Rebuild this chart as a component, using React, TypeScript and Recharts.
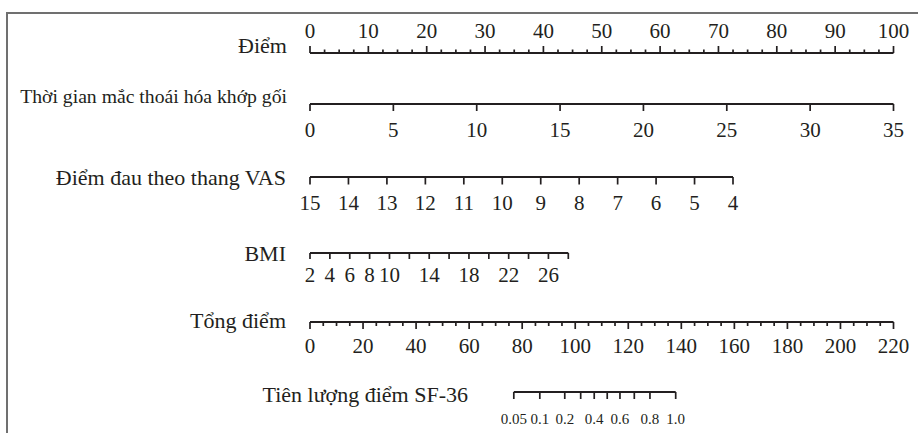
import React from "react";
import { LineChart, XAxis } from "recharts";

const INK = "#231f20";
const SERIF = '"Liberation Serif", "DejaVu Serif", serif';
const W = 918;

// --- data ---
const pointTicks = [0, 2.5, 5, 7.5, 10, 12.5, 15, 17.5, 20, 22.5, 25, 27.5, 30, 32.5, 35, 37.5, 40, 42.5, 45, 47.5, 50, 52.5, 55, 57.5, 60, 62.5, 65, 67.5, 70, 72.5, 75, 77.5, 80, 82.5, 85, 87.5, 90, 92.5, 95, 97.5, 100];
const pointLabels = [0, 10, 20, 30, 40, 50, 60, 70, 80, 90, 100];

const durationTicks = [0, 5, 10, 15, 20, 25, 30, 35];

const vasTicks = [15, 14, 13, 12, 11, 10, 9, 8, 7, 6, 5, 4];

const bmiTicks = [2, 4, 6, 8, 10, 12, 14, 16, 18, 20, 22, 24, 26, 28];
const bmiLabels = [2, 4, 6, 8, 10, 14, 18, 22, 26];

const totalTicks = [0, 5, 10, 15, 20, 25, 30, 35, 40, 45, 50, 55, 60, 65, 70, 75, 80, 85, 90, 95, 100, 105, 110, 115, 120, 125, 130, 135, 140, 145, 150, 155, 160, 165, 170, 175, 180, 185, 190, 195, 200, 205, 210, 215, 220];
const totalLabels = [0, 20, 40, 60, 80, 100, 120, 140, 160, 180, 200, 220];

// SF-36 probability ticks, placed on the total-points scale
const sf36Values = ["0.05", "0.1", "0.2", "0.3", "0.4", "0.5", "0.6", "0.7", "0.8", "1.0"];
const sf36Points = [77.0, 86.8, 96.2, 102.2, 107.3, 112.2, 117.0, 122.4, 128.3, 138.0];
const sf36Labels = ["0.05", "0.1", "0.2", "0.4", "0.6", "0.8", "1.0"];

const rowNames = [
  "Điểm",
  "Thời gian mắc thoái hóa khớp gối",
  "Điểm đau theo thang VAS",
  "BMI",
  "Tổng điểm",
  "Tiên lượng điểm SF-36",
];

type Layout = {
  lineY: number;
  x0: number;
  x1: number;
  orientation: "top" | "bottom";
  majorLen: number;
  minorLen: number;
  labelDy: number;
  tickFont: number;
  nameEnd: number;
  nameDy: number;
  nameSize: number;
};

const H = 90;
const A = 45;

function ScaleRow(props: {
  name: string;
  domain: [number, number];
  reversed?: boolean;
  ticks: number[];
  labelOf: (v: number) => string | null;
  layout: Layout;
}) {
  const { name, domain, reversed, ticks, labelOf, layout } = props;
  const isTop = layout.orientation === "top";
  const lineIn = isTop ? A : H - A;
  const top = layout.lineY - lineIn;
  const dir = isTop ? -1 : 1;
  const data = ticks.map((t) => ({ x: t }));

  const renderTick = (p: any) => {
    const v = p.payload.value;
    const txt = labelOf(v);
    const len = txt !== null ? layout.majorLen : layout.minorLen;
    return (
      <g>
        <line x1={p.x} y1={p.y} x2={p.x} y2={p.y + dir * len} stroke={INK} strokeWidth={1.7} />
        {txt && (
          <text x={p.x} y={p.y + layout.labelDy} textAnchor="middle" fill={INK} style={{ fontFamily: SERIF, fontSize: layout.tickFont }}>
            {txt}
          </text>
        )}
      </g>
    );
  };

  const renderName = () => (
    <text x={layout.nameEnd} y={lineIn + layout.nameDy} textAnchor="end" fill={INK} style={{ fontFamily: SERIF, fontSize: layout.nameSize }}>
      {name}
    </text>
  );

  return (
    <div style={{ position: "absolute", left: 0, top, width: W, height: H }}>
      <LineChart width={W} height={H} data={data} margin={{ top: 0, bottom: 0, left: layout.x0, right: W - layout.x1 }}>
        <XAxis
          dataKey="x"
          type="number"
          domain={domain}
          reversed={reversed}
          ticks={ticks}
          interval={0}
          orientation={layout.orientation}
          height={A}
          tickLine={false}
          tickSize={0}
          tickMargin={0}
          padding={{ left: 0, right: 0 }}
          allowDataOverflow
          axisLine={{ stroke: INK, strokeWidth: 1.8 }}
          tick={renderTick}
          label={renderName}
        />
      </LineChart>
    </div>
  );
}

const pick = (list: number[]) => (v: number) => (list.includes(v) ? String(v) : null);

export default function App() {
  return (
    <div style={{ position: "fixed", left: 0, top: 0, width: W, height: 433, background: "#fff", overflow: "hidden", fontFamily: SERIF }}>
      <div
        style={{
          position: "absolute",
          left: 6,
          top: 12,
          width: 1000,
          height: 600,
          borderTop: "2px solid #707070",
          borderLeft: "2px solid #707070",
        }}
      />
      <ScaleRow
        name={rowNames[0]}
        domain={[0, 100]}
        ticks={pointTicks}
        labelOf={pick(pointLabels)}
        layout={{ lineY: 53.3, x0: 310, x1: 893.5, orientation: "top", majorLen: 7, minorLen: 3.5, labelDy: -15, tickFont: 21, nameEnd: 287, nameDy: 0, nameSize: 22 }}
      />
      <ScaleRow
        name={rowNames[1]}
        domain={[0, 35]}
        ticks={durationTicks}
        labelOf={pick(durationTicks)}
        layout={{ lineY: 104, x0: 310, x1: 893.5, orientation: "bottom", majorLen: 7, minorLen: 7, labelDy: 32.7, tickFont: 21, nameEnd: 287, nameDy: -1, nameSize: 19.7 }}
      />
      <ScaleRow
        name={rowNames[2]}
        domain={[4, 15]}
        reversed
        ticks={vasTicks}
        labelOf={pick(vasTicks)}
        layout={{ lineY: 177.3, x0: 310, x1: 733, orientation: "bottom", majorLen: 7.5, minorLen: 7.5, labelDy: 32.7, tickFont: 21, nameEnd: 286, nameDy: 7.7, nameSize: 22 }}
      />
      <ScaleRow
        name={rowNames[3]}
        domain={[2, 28]}
        ticks={bmiTicks}
        labelOf={pick(bmiLabels)}
        layout={{ lineY: 253.3, x0: 310, x1: 568.3, orientation: "bottom", majorLen: 6, minorLen: 6, labelDy: 28.7, tickFont: 21, nameEnd: 286, nameDy: 8.4, nameSize: 22 }}
      />
      <ScaleRow
        name={rowNames[4]}
        domain={[0, 220]}
        ticks={totalTicks}
        labelOf={pick(totalLabels)}
        layout={{ lineY: 322.3, x0: 310, x1: 893.5, orientation: "bottom", majorLen: 7, minorLen: 4, labelDy: 30.7, tickFont: 21, nameEnd: 286, nameDy: 5.7, nameSize: 22 }}
      />
      <ScaleRow
        name={rowNames[5]}
        domain={[sf36Points[0], sf36Points[sf36Points.length - 1]]}
        ticks={sf36Points}
        labelOf={(v) => {
          const s = sf36Values[sf36Points.indexOf(v)];
          return s !== undefined && sf36Labels.includes(s) ? s : "";
        }}
        layout={{ lineY: 391.5, x0: 513.8, x1: 675.7, orientation: "bottom", majorLen: 7, minorLen: 7, labelDy: 31.5, tickFont: 15, nameEnd: 468, nameDy: 10, nameSize: 22 }}
      />
    </div>
  );
}
